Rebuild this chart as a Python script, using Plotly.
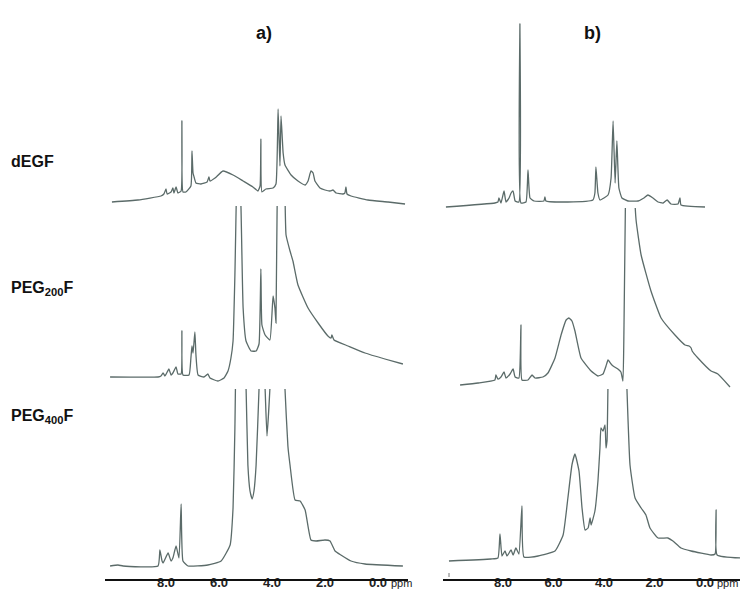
import plotly.graph_objects as go

# 1H NMR spectra, ppm vs intensity (arbitrary units, 0 = baseline of each trace)
# column a)
degf_a_ppm = [10.04, 9.06, 8.19, 8.08, 8.00, 7.96, 7.81, 7.74, 7.70, 7.62, 7.55, 7.43, 7.40, 7.36, 7.25,
              7.06, 7.02, 6.98, 6.94, 6.87, 6.68, 6.45, 6.38, 6.34, 6.15, 5.85, 5.47, 5.09, 4.72, 4.53,
              4.45, 4.42, 4.38, 4.23, 3.96, 3.85, 3.77, 3.70, 3.66, 3.58, 3.51, 3.28, 3.02, 2.75, 2.64,
              2.53, 2.45, 2.38, 2.19, 2.00, 1.81, 1.70, 1.58, 1.32, 1.25, 1.21, 1.17, 1.02, 0.38, -0.38, -1.02]
degf_a_int = [2, 4, 8, 10, 15, 10, 12, 16, 11, 17, 11, 13, 83, 12, 12,
              18, 53, 31, 27, 21, 20, 22, 27, 23, 26, 33, 29, 23, 17, 13,
              18, 65, 12, 15, 16, 20, 95, 38, 88, 51, 39, 29, 23, 19, 23,
              33, 31, 23, 16, 14, 13, 14, 11, 10, 11, 17, 10, 8, 4, 2, 0]

peg200_a_ppm = [10.11, 8.30, 8.19, 8.11, 8.04, 7.89, 7.81, 7.74, 7.62, 7.55, 7.43, 7.40, 7.36, 7.13,
                7.06, 7.02, 6.98, 6.91, 6.87, 6.79, 6.57, 6.42, 6.34, 6.04, 5.81, 5.66, 5.55, 5.47,
                5.40, 5.28, 5.17, 5.09, 4.98, 4.79, 4.60, 4.49, 4.42, 4.38, 4.26, 4.08, 3.96, 3.89,
                3.85, 3.77, 3.66, 3.51, 3.47, 3.32, 3.21, 3.02, 2.64, 2.26, 1.89, 1.77, 1.74, 1.66,
                1.13, 0.49, -0.26, -0.94]
peg200_a_int = [0, 0, 1, 4, 1, 8, 2, 4, 10, 3, 3, 46, 2, 2,
                19, 31, 24, 45, 22, 2, 0, 3, -1, -4, -1, 6, 19, 36,
                102, 260, 169, 69, 36, 26, 26, 33, 108, 52, 42, 37, 81, 69,
                54, 260, 300, 180, 142, 126, 116, 92, 69, 54, 41, 39, 42, 37,
                31, 24, 18, 13]

peg400_a_ppm = [10.11, 9.81, 9.62, 8.30, 8.23, 8.15, 8.11, 7.92, 7.81, 7.74, 7.62, 7.51, 7.43, 7.36,
                7.17, 6.42, 5.92, 5.58, 5.47, 5.40, 5.28, 5.13, 4.98, 4.91, 4.83, 4.75, 4.68, 4.60,
                4.49, 4.40, 4.26, 4.19, 4.08, 3.77, 3.51, 3.40, 3.32, 3.13, 2.94, 2.75, 2.53, 2.34,
                2.00, 1.81, 1.62, 1.40, 1.02, 0.49, -0.94]
peg400_a_int = [0, 1, 0, 0, 16, 5, 3, 13, 5, 8, 20, 8, 62, 5,
                0, 1, 5, 21, 58, 138, 350, 280, 180, 101, 75, 67, 75, 101,
                177, 260, 177, 130, 177, 400, 177, 120, 101, 66, 65, 56, 26, 25,
                26, 25, 15, 11, 5, 2, 0]

# column b)
degf_b_ppm = [10.26, 8.32, 8.20, 8.16, 8.08, 7.96, 7.88, 7.76, 7.68, 7.60, 7.52, 7.37, 7.33, 7.29,
              7.09, 7.01, 6.93, 6.77, 6.38, 6.34, 6.30, 5.43, 4.44, 4.36, 4.32, 4.24, 4.16, 3.84,
              3.72, 3.64, 3.56, 3.49, 3.41, 3.29, 3.05, 2.65, 2.42, 2.26, 2.06, 1.86, 1.66, 1.50,
              1.35, 1.07, 0.99, 0.95, 0.00]
degf_b_int = [0, 4, 5, 9, 4, 16, 5, 9, 14, 16, 6, 5, 183, 4,
              5, 37, 9, 6, 6, 10, 6, 5, 7, 14, 40, 14, 7, 12,
              29, 86, 24, 66, 19, 9, 6, 6, 9, 12, 9, 5, 4, 7,
              3, 3, 9, 2, 0]

peg200_b_ppm = [9.70, 8.99, 8.32, 8.28, 8.20, 8.08, 7.96, 7.88, 7.72, 7.60, 7.52, 7.37, 7.29, 7.25,
                7.01, 6.85, 6.73, 6.42, 6.22, 5.94, 5.70, 5.50, 5.39, 5.27, 5.15, 4.91, 4.51, 4.24,
                4.04, 3.92, 3.84, 3.72, 3.64, 3.45, 3.33, 3.25, 3.21, 3.09, 2.97, 2.81, 2.73, 2.53,
                2.14, 1.74, 1.19, 0.79, 0.63, 0.55, 0.51, 0.28, -0.24, -0.51, -0.99, None, -1.50, -1.90]
peg200_b_int = [-5, -3, 0, 5, 1, 3, 8, 2, 6, 11, 3, 2, 55, 0,
                0, 5, 2, 3, 7, 22, 45, 60, 62, 59, 49, 22, 9, 4,
                6, 14, 20, 16, 14, 11, 8, -1, 50, 300, 400, 200, 160, 125,
                89, 62, 45, 35, 34, 32, 29, 22, 9, 6, -7, None, -17, -24]

peg400_b_ppm = [10.14, 8.48, 8.20, 8.12, 8.04, 7.92, 7.84, 7.68, 7.60, 7.49, 7.37, 7.25, 7.17, 6.61,
                5.94, 5.62, 5.43, 5.27, 5.15, 4.99, 4.87, 4.75, 4.63, 4.55, 4.51, 4.36, 4.24, 4.16,
                4.12, 4.04, 3.96, 3.92, 3.88, 3.80, 3.49, 3.13, 2.97, 2.77, 2.53, 2.34, 2.18, 1.86,
                1.47, 1.27, 0.95, 0.55, -0.24, -0.40, -0.44, -0.48, -1.43]
peg400_b_int = [0, 2, 3, 27, 5, 10, 5, 11, 6, 13, 7, 55, 4, 5,
                10, 26, 63, 96, 107, 90, 53, 31, 33, 43, 36, 50, 80, 113,
                133, 130, 136, 113, 120, 253, 450, 200, 96, 63, 53, 46, 33, 23,
                23, 20, 13, 10, 6, 7, 51, 6, 3]

sample_names = ['dEGF', 'PEG<sub>200</sub>F', 'PEG<sub>400</sub>F']
panel_titles = ['a)', 'b)']
tick_vals = [8, 6, 4, 2, 0]
tick_text = ['8.0', '6.0', '4.0', '2.0', '0.0']

W, H = 748, 594
LINE = '#5b6b69'
FONT = 'Liberation Sans, Arial, sans-serif'


def fx(px):
    return px / W


def fy(py):
    return (H - py) / H


columns = [
    # traces, x zero pixel, px per ppm, x domain px, baselines px, clip tops px
    dict(traces=[(degf_a_ppm, degf_a_int), (peg200_a_ppm, peg200_a_int), (peg400_a_ppm, peg400_a_int)],
         zero=370, scale=26.5, dom=(97, 420), base=[196, 369, 558], top=[0, 198, 381], line=(97, 400)),
    dict(traces=[(degf_b_ppm, degf_b_int), (peg200_b_ppm, peg200_b_int), (peg400_b_ppm, peg400_b_int)],
         zero=697, scale=25.25, dom=(430, 748), base=[199, 372, 553], top=[0, 200, 381], line=(435, 737)),
]

fig = go.Figure()
layout = {}
shapes = []
n = 0
for c, col in enumerate(columns):
    xname = 'x' if c == 0 else 'x2'
    xkey = 'xaxis' if c == 0 else 'xaxis2'
    d0, d1 = col['dom']
    layout[xkey] = dict(domain=[fx(d0), fx(d1)],
                        range=[(col['zero'] - d0) / col['scale'], (col['zero'] - d1) / col['scale']],
                        anchor='free', position=fy(565), showgrid=False, zeroline=False, showline=False,
                        ticks='', tickvals=tick_vals, ticktext=tick_text,
                        tickfont=dict(family=FONT, size=13, color='#222', weight='bold'), fixedrange=True)
    shapes.append(dict(type='line', xref='paper', yref='paper', x0=fx(col['line'][0]), x1=fx(col['line'][1]),
                       y0=fy(572), y1=fy(572), line=dict(color='#111', width=2)))
    for r, (xs, ys) in enumerate(col['traces']):
        n += 1
        yname = 'y' if n == 1 else 'y%d' % n
        ykey = 'yaxis' if n == 1 else 'yaxis%d' % n
        b, t = col['base'][r], col['top'][r]
        layout[ykey] = dict(domain=[0, fy(t)], range=[b - H, b - t], visible=False,
                            anchor=xname, fixedrange=True)
        fig.add_trace(go.Scatter(x=xs, y=ys, xaxis=xname, yaxis=yname, mode='lines',
                                 line=dict(color=LINE, width=1.3, shape='spline', smoothing=0.4),
                                 showlegend=False, hoverinfo='skip'))

annotations = []
for c, title in enumerate(panel_titles):
    annotations.append(dict(text='<b>%s</b>' % title, x=fx([256, 595][c]), y=fy(13), xref='paper', yref='paper',
                            showarrow=False, font=dict(family=FONT, size=18, color='#111')))
    annotations.append(dict(text='ppm', x=fx([393, 732][c]), y=fy(583), xref='paper', yref='paper',
                            showarrow=False, font=dict(family=FONT, size=11, color='#222')))
for r, name in enumerate(sample_names):
    annotations.append(dict(text='<b>%s</b>' % name, x=fx(1), y=fy([143, 280, 420][r]), xref='paper', yref='paper',
                            xanchor='left', showarrow=False, font=dict(family=FONT, size=16, color='#111')))

shapes.append(dict(type='line', xref='paper', yref='paper', x0=fx(441), x1=fx(441), y0=fy(565), y1=fy(569),
                   line=dict(color='#777', width=1)))

fig.update_layout(width=W, height=H, margin=dict(l=0, r=0, t=0, b=0), paper_bgcolor='white',
                  plot_bgcolor='rgba(0,0,0,0)', showlegend=False, shapes=shapes, annotations=annotations, **layout)
fig.write_html('out.html')
